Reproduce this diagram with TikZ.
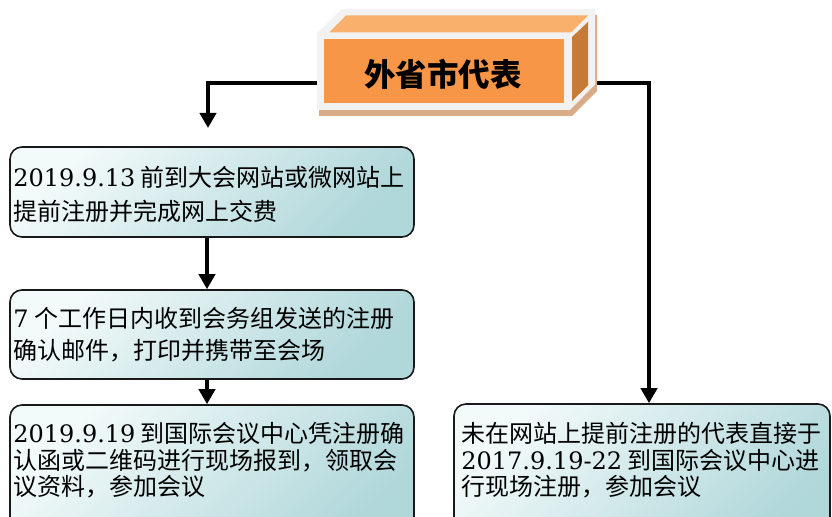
\documentclass[tikz,border=0pt]{standalone}
\usepackage{fontspec}
\setmainfont{DejaVu Serif}
\newfontfamily\cjk{Noto Sans CJK SC}
\usetikzlibrary{arrows.meta,positioning}
\definecolor{boxlight}{HTML}{F3FAFA}
\definecolor{boxdark}{HTML}{B0D7DA}
\definecolor{cubefront}{HTML}{F79646}
\definecolor{cubetop}{HTML}{F9B06D}
\definecolor{cubeside}{HTML}{C77A38}
\definecolor{cubeedge}{HTML}{F2F2F2}
\definecolor{cubeshadow}{HTML}{D9AC88}
\newcommand{\dg}[1]{{\rmfamily #1}}
\tikzset{
  regbox/.style={draw=black!90, line width=1.6bp, rounded corners=12bp,
    top color=boxlight, bottom color=boxdark, shading angle=45, inner sep=0pt},
  regtext/.style={inner sep=0pt, align=left, font=\cjk\fontsize{24bp}{34bp}\selectfont},
  flow/.style={line width=4bp, -{Triangle[length=15bp,width=16bp]}},
  cubefrontbox/.style={draw=cubeedge, fill=cubefront, line width=6.5bp, inner sep=0pt,
    minimum width=246.5bp, minimum height=70.5bp}
}
\begin{document}
\begin{tikzpicture}[x=1bp, y=-1bp]
        \useasboundingbox (0,0) rectangle (832,517);
        \clip (0,0) rectangle (832,517);
        \node[regbox, minimum width=404bp, minimum height=90bp] (reg1) at (212,192) {};
        \node[regbox, minimum width=404bp, minimum height=89bp] (reg2) at (212,334.5) {};
        \node[regbox, minimum width=404bp, minimum height=140bp] (reg3) at (212,475) {};
        \node[regbox, minimum width=376bp, minimum height=140bp] (onsite) at (642,474) {};
        \node[regtext, below right=20bp and 4bp of reg1.north west] (reg1txt)
          {\dg{2019.9.13} 前到大会网站或微网站上\\提前注册并完成网上交费};
        \node[regtext, font=\cjk\fontsize{24bp}{32bp}\selectfont,
          below right=18bp and 4bp of reg2.north west] (reg2txt)
          {\dg{7} 个工作日内收到会务组发送的注册\\确认邮件，打印并携带至会场};
        \node[regtext, font=\cjk\fontsize{24bp}{26.5bp}\selectfont,
          below right=18bp and 4bp of reg3.north west] (reg3txt)
          {\dg{2019.9.19} 到国际会议中心凭注册确\\认函或二维码进行现场报到，领取会\\议资料，参加会议};
        \node[regtext, font=\cjk\fontsize{24bp}{26.5bp}\selectfont,
          below right=19bp and 8bp of onsite.north west] (onsitetxt)
          {未在网站上提前注册的代表直接于\\\dg{2017.9.19-22} 到国际会议中心进\\行现场注册，参加会议};
        \node[cubefrontbox] (rep) at (443.5,71.5) {};
        \coordinate (leftend) at (208,128);
        \draw[flow] ([yshift=-11.5bp]rep.west) -| (leftend);
        \draw[flow] ([yshift=-11.5bp]rep.east) -| ([xshift=7bp]onsite.north);
        \draw[flow] ([xshift=-5bp]reg1.south) -- ([xshift=-5bp]reg2.north);
        \draw[flow] ([xshift=-5bp]reg2.south) -- ([xshift=-5bp]reg3.north);
        \fill[cubeshadow] (319,39) -- (344,15) -- (597,15) -- (597,91) -- (572,116) -- (319,116) -- cycle;
        \fill[cubeedge] (317,33) -- (342,9) -- (595,9) -- (595,84.5) -- (570,110) -- (317,110) -- cycle;
        \fill[cubetop] (329,32.5) -- (346,15.5) -- (588,15.5) -- (571,32.5) -- cycle;
        \fill[cubeside] (572,37) -- (588,22) -- (588,85.5) -- (572,101) -- cycle;
        \node[cubefrontbox] at (rep) {};
        \node[font=\cjk\bfseries\fontsize{31.5bp}{36bp}\selectfont] (reptxt) at (443,74) {外省市代表};
\end{tikzpicture}
\end{document}
